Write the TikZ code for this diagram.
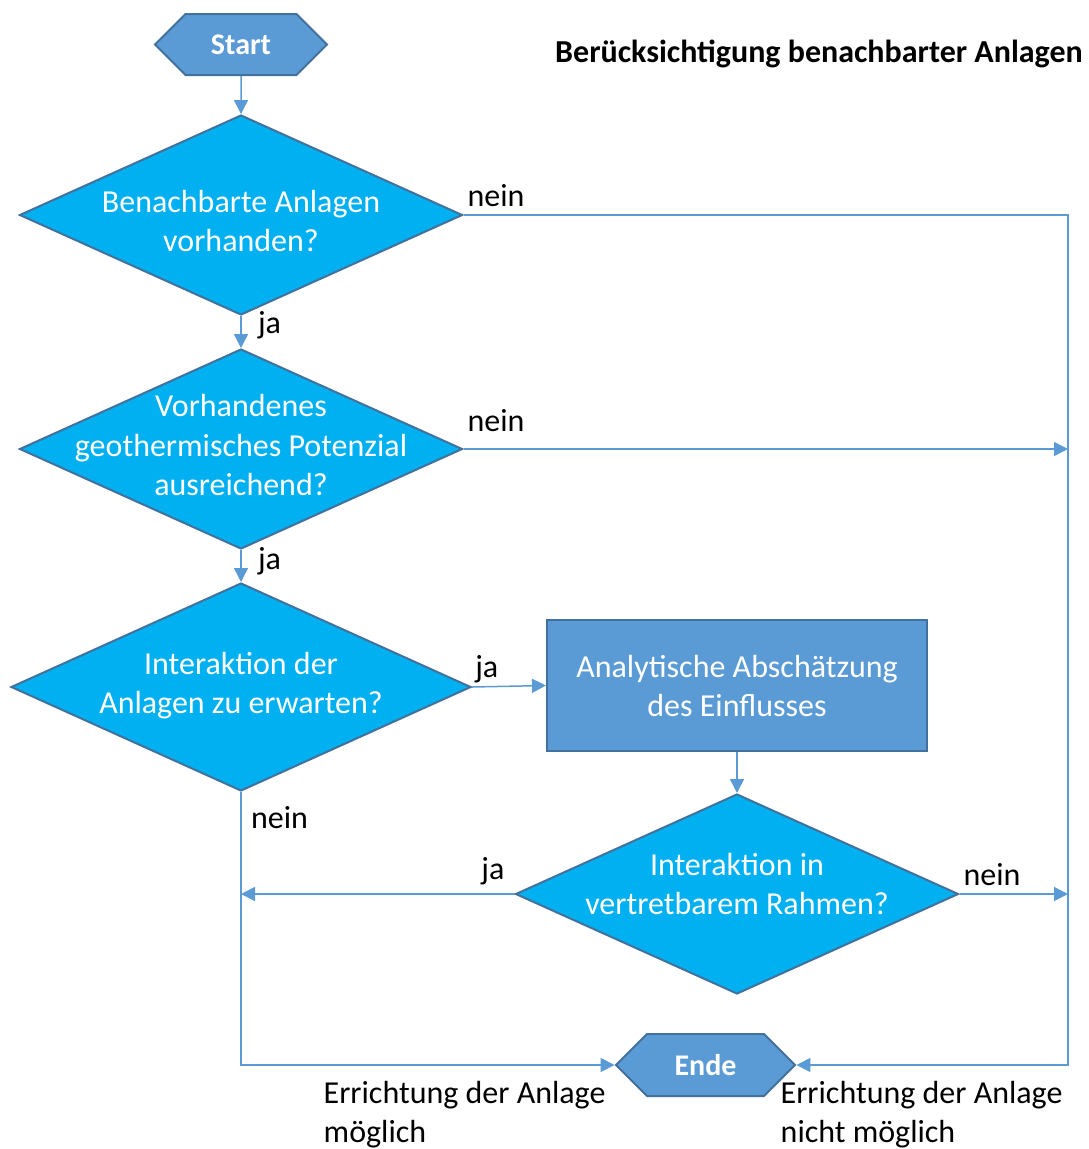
\documentclass[tikz,border=0pt]{standalone}
\usepackage{fontspec}
\setmainfont{Carlito}
\usetikzlibrary{shapes.geometric,shapes.symbols,arrows.meta}
\definecolor{boxblue}{HTML}{5B9BD5}
\definecolor{edgeblue}{HTML}{41719C}
\definecolor{askblue}{HTML}{00B0F0}
\begin{document}
\begin{tikzpicture}[x=1pt,y=-1pt,
  txt/.style={font=\fontsize{32}{39}\selectfont, align=center, text=white},
  lbl/.style={font=\fontsize{32}{39}\selectfont, text=black},
  term/.style={shape=signal, signal to=west and east, draw=edgeblue, line width=2pt,
    fill=boxblue, text=white, font=\fontsize{30}{35}\selectfont\bfseries,
    minimum height=61pt},
  decision/.style={diamond, draw=edgeblue, line width=2pt, fill=askblue, inner sep=0pt,
    minimum width=443pt, minimum height=200pt},
  process/.style={rectangle, draw=edgeblue, line width=2pt, fill=boxblue, txt,
    minimum width=380pt, minimum height=131pt},
  flow/.style={draw=boxblue, line width=1.5pt, -{Triangle[length=14pt,width=14pt]}}]
\useasboundingbox (0,0) rectangle (1088,1149);

\node[term, minimum width=172pt, text depth=-5pt] (start) at (241,44.5) {Start};
\node[lbl, font=\fontsize{32}{39}\selectfont\bfseries] (title) at (819,54) {Berücksichtigung benachbarter Anlagen};

\node[decision, label={[txt, yshift=-6pt]center:{Benachbarte Anlagen\\vorhanden?}}] (d1) at (241,215) {};
\node[decision, label={[txt, yshift=4pt]center:{Vorhandenes\\geothermisches Potenzial\\ausreichend?}}] (d2) at (241,449) {};
\node[decision, minimum width=460pt, minimum height=208pt,
  label={[txt, yshift=1pt]center:{Interaktion der\\Anlagen zu erwarten?}}] (d3) at (241,687) {};
\node[process] (proc) at (737,685.5) {Analytische Abschätzung\\des Einflusses};
\node[decision, label={[txt, yshift=10pt]center:{Interaktion in\\vertretbarem Rahmen?}}] (d4) at (737,894) {};
\node[term, minimum width=179pt, minimum height=62pt, text depth=-5pt] (ende) at (705.5,1065) {Ende};

\coordinate (rt) at (1068,215);
\coordinate (rb) at (1068,1065);
\coordinate (lb) at (241,1065);

\path[flow] (start) -- (d1);
\path[flow] (d1) -- node[lbl, right=13pt, pos=0.3] {ja} (d2);
\path[flow] (d2) -- node[lbl, right=13pt, pos=0.35] {ja} (d3);
\path[flow] (d3.east) -- node[lbl, above, pos=0.2] {ja} (proc.west);
\path[flow] (proc) -- (d4);
\path[flow] (d1.east) -- node[lbl, above right, pos=0, yshift=4pt] {nein} (rt) -- (rb) -- (ende.east);
\path[flow] (d2.east) -- node[lbl, above right, pos=0, yshift=13pt] {nein} (d2.east -| rt);
\path[flow] (d4.east) -- node[lbl, above right, pos=0, yshift=4pt] {nein} (d4.east -| rt);
\path[flow] (d4.west) -- node[lbl, above left, pos=0, xshift=-6pt, yshift=5pt] {ja} (d4.west -| d3.south);
\path[flow] (d3.south) -- node[lbl, below right, pos=0, xshift=6pt, yshift=-10pt] {nein} (lb) -- (ende.west);

\node[lbl, align=left, anchor=north west, inner sep=0pt] (ok) at (323.5,1081.5) {Errichtung der Anlage\\möglich};
\node[lbl, align=left, anchor=north west, inner sep=0pt] (nok) at (780.5,1081.5) {Errichtung der Anlage\\nicht möglich};
\end{tikzpicture}
\end{document}
